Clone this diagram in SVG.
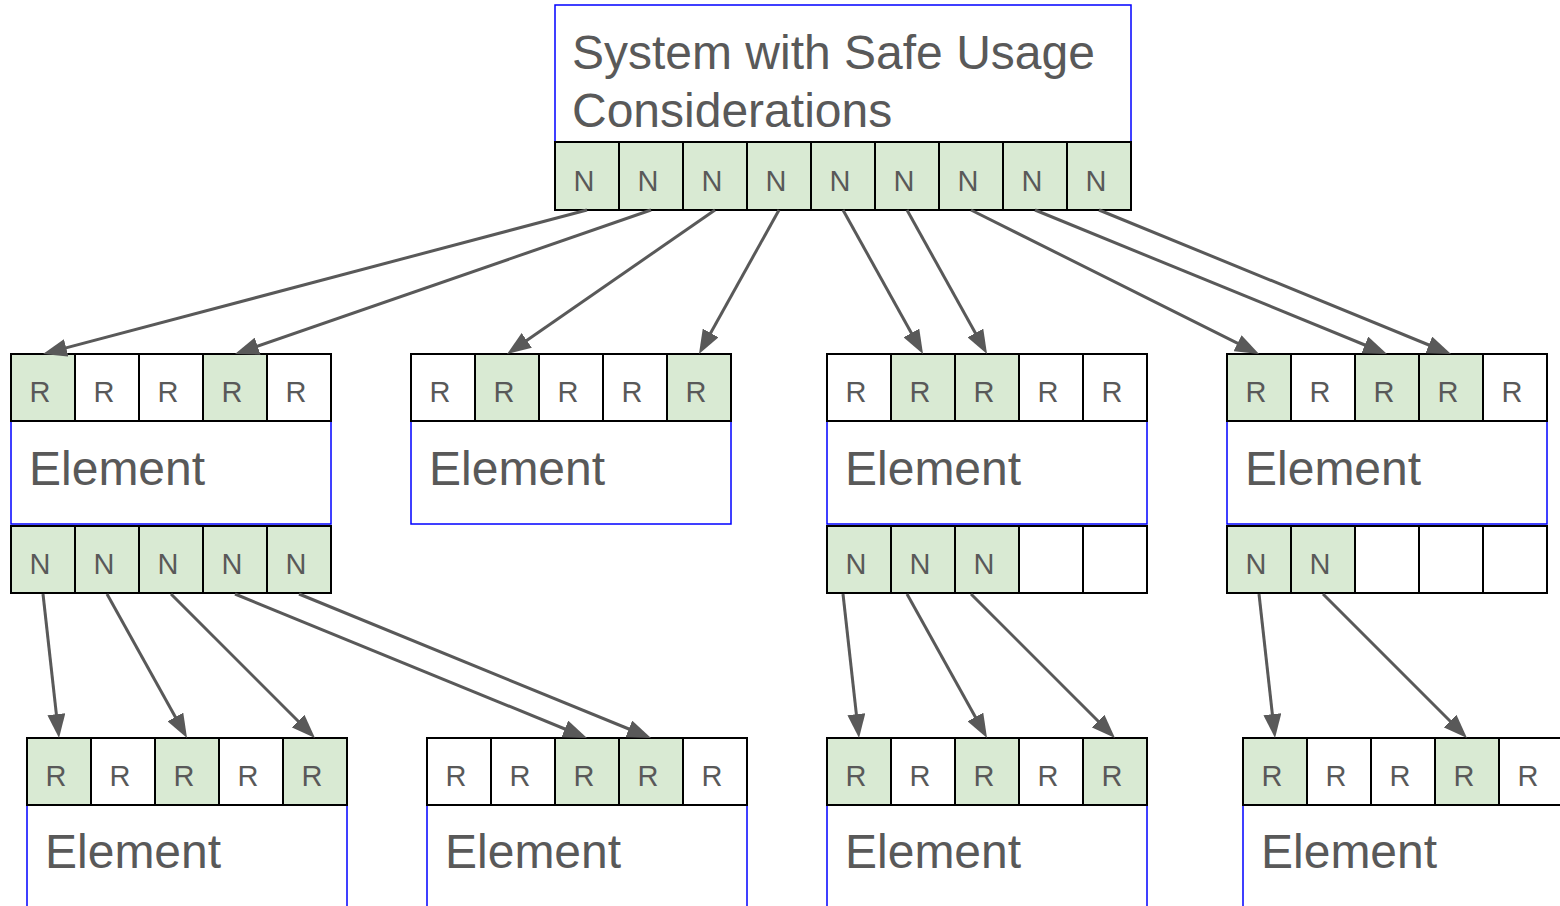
<svg xmlns="http://www.w3.org/2000/svg" width="1560" height="906" viewBox="0 0 1560 906">
  <style>
    .box { fill: #ffffff; stroke: #0000ff; stroke-width: 1.5; }
    .cell { fill: #ffffff; stroke: #000000; stroke-width: 2; }
    .on { fill: #d9ead3; }
    .lbl { font-family: "Liberation Sans", Arial, sans-serif; font-size: 29px; fill: #595959; text-anchor: middle; }
    .big { font-family: "Liberation Sans", Arial, sans-serif; font-size: 48px; fill: #595959; }
    .conn line { stroke: #595959; stroke-width: 3; marker-end: url(#head); }
  </style>
  <defs>
    <marker id="head" viewBox="0 0 24 18" refX="12" refY="9" markerWidth="24" markerHeight="18" markerUnits="userSpaceOnUse" orient="auto">
      <path d="M0,0 L24,9 L0,18 z" fill="#595959"/>
    </marker>
  </defs>
  <rect width="1560" height="906" fill="#ffffff"/>

  <!-- top-level system -->
  <g id="system">
    <rect class="box" x="555" y="5" width="576" height="137"/>
    <text class="big" x="572" y="69">System with Safe Usage</text>
    <text class="big" x="572" y="127">Considerations</text>
    <g>
      <rect class="cell on" x="555" y="142" width="64" height="68"/>
      <rect class="cell on" x="619" y="142" width="64" height="68"/>
      <rect class="cell on" x="683" y="142" width="64" height="68"/>
      <rect class="cell on" x="747" y="142" width="64" height="68"/>
      <rect class="cell on" x="811" y="142" width="64" height="68"/>
      <rect class="cell on" x="875" y="142" width="64" height="68"/>
      <rect class="cell on" x="939" y="142" width="64" height="68"/>
      <rect class="cell on" x="1003" y="142" width="64" height="68"/>
      <rect class="cell on" x="1067" y="142" width="64" height="68"/>
      <text class="lbl" x="584" y="191">N</text>
      <text class="lbl" x="648" y="191">N</text>
      <text class="lbl" x="712" y="191">N</text>
      <text class="lbl" x="776" y="191">N</text>
      <text class="lbl" x="840" y="191">N</text>
      <text class="lbl" x="904" y="191">N</text>
      <text class="lbl" x="968" y="191">N</text>
      <text class="lbl" x="1032" y="191">N</text>
      <text class="lbl" x="1096" y="191">N</text>
    </g>
  </g>

  <!-- second level -->
  <g id="element-1">
    <rect class="box" x="11" y="421" width="320" height="103"/>
    <text class="big" x="29" y="485">Element</text>
    <rect class="cell on" x="11" y="354" width="64" height="67"/>
    <rect class="cell" x="75" y="354" width="64" height="67"/>
    <rect class="cell" x="139" y="354" width="64" height="67"/>
    <rect class="cell on" x="203" y="354" width="64" height="67"/>
    <rect class="cell" x="267" y="354" width="64" height="67"/>
    <text class="lbl" x="40" y="402">R</text>
    <text class="lbl" x="104" y="402">R</text>
    <text class="lbl" x="168" y="402">R</text>
    <text class="lbl" x="232" y="402">R</text>
    <text class="lbl" x="296" y="402">R</text>
    <rect class="cell on" x="11" y="526" width="64" height="67"/>
    <rect class="cell on" x="75" y="526" width="64" height="67"/>
    <rect class="cell on" x="139" y="526" width="64" height="67"/>
    <rect class="cell on" x="203" y="526" width="64" height="67"/>
    <rect class="cell on" x="267" y="526" width="64" height="67"/>
    <text class="lbl" x="40" y="574">N</text>
    <text class="lbl" x="104" y="574">N</text>
    <text class="lbl" x="168" y="574">N</text>
    <text class="lbl" x="232" y="574">N</text>
    <text class="lbl" x="296" y="574">N</text>
  </g>

  <g id="element-2">
    <rect class="box" x="411" y="421" width="320" height="103"/>
    <text class="big" x="429" y="485">Element</text>
    <rect class="cell" x="411" y="354" width="64" height="67"/>
    <rect class="cell on" x="475" y="354" width="64" height="67"/>
    <rect class="cell" x="539" y="354" width="64" height="67"/>
    <rect class="cell" x="603" y="354" width="64" height="67"/>
    <rect class="cell on" x="667" y="354" width="64" height="67"/>
    <text class="lbl" x="440" y="402">R</text>
    <text class="lbl" x="504" y="402">R</text>
    <text class="lbl" x="568" y="402">R</text>
    <text class="lbl" x="632" y="402">R</text>
    <text class="lbl" x="696" y="402">R</text>
  </g>

  <g id="element-3">
    <rect class="box" x="827" y="421" width="320" height="103"/>
    <text class="big" x="845" y="485">Element</text>
    <rect class="cell" x="827" y="354" width="64" height="67"/>
    <rect class="cell on" x="891" y="354" width="64" height="67"/>
    <rect class="cell on" x="955" y="354" width="64" height="67"/>
    <rect class="cell" x="1019" y="354" width="64" height="67"/>
    <rect class="cell" x="1083" y="354" width="64" height="67"/>
    <text class="lbl" x="856" y="402">R</text>
    <text class="lbl" x="920" y="402">R</text>
    <text class="lbl" x="984" y="402">R</text>
    <text class="lbl" x="1048" y="402">R</text>
    <text class="lbl" x="1112" y="402">R</text>
    <rect class="cell on" x="827" y="526" width="64" height="67"/>
    <rect class="cell on" x="891" y="526" width="64" height="67"/>
    <rect class="cell on" x="955" y="526" width="64" height="67"/>
    <rect class="cell" x="1019" y="526" width="64" height="67"/>
    <rect class="cell" x="1083" y="526" width="64" height="67"/>
    <text class="lbl" x="856" y="574">N</text>
    <text class="lbl" x="920" y="574">N</text>
    <text class="lbl" x="984" y="574">N</text>
  </g>

  <g id="element-4">
    <rect class="box" x="1227" y="421" width="320" height="103"/>
    <text class="big" x="1245" y="485">Element</text>
    <rect class="cell on" x="1227" y="354" width="64" height="67"/>
    <rect class="cell" x="1291" y="354" width="64" height="67"/>
    <rect class="cell on" x="1355" y="354" width="64" height="67"/>
    <rect class="cell on" x="1419" y="354" width="64" height="67"/>
    <rect class="cell" x="1483" y="354" width="64" height="67"/>
    <text class="lbl" x="1256" y="402">R</text>
    <text class="lbl" x="1320" y="402">R</text>
    <text class="lbl" x="1384" y="402">R</text>
    <text class="lbl" x="1448" y="402">R</text>
    <text class="lbl" x="1512" y="402">R</text>
    <rect class="cell on" x="1227" y="526" width="64" height="67"/>
    <rect class="cell on" x="1291" y="526" width="64" height="67"/>
    <rect class="cell" x="1355" y="526" width="64" height="67"/>
    <rect class="cell" x="1419" y="526" width="64" height="67"/>
    <rect class="cell" x="1483" y="526" width="64" height="67"/>
    <text class="lbl" x="1256" y="574">N</text>
    <text class="lbl" x="1320" y="574">N</text>
  </g>

  <!-- third level -->
  <g id="element-5">
    <rect class="box" x="27" y="805" width="320" height="130"/>
    <text class="big" x="45" y="868">Element</text>
    <rect class="cell on" x="27" y="738" width="64" height="67"/>
    <rect class="cell" x="91" y="738" width="64" height="67"/>
    <rect class="cell on" x="155" y="738" width="64" height="67"/>
    <rect class="cell" x="219" y="738" width="64" height="67"/>
    <rect class="cell on" x="283" y="738" width="64" height="67"/>
    <text class="lbl" x="56" y="786">R</text>
    <text class="lbl" x="120" y="786">R</text>
    <text class="lbl" x="184" y="786">R</text>
    <text class="lbl" x="248" y="786">R</text>
    <text class="lbl" x="312" y="786">R</text>
  </g>

  <g id="element-6">
    <rect class="box" x="427" y="805" width="320" height="130"/>
    <text class="big" x="445" y="868">Element</text>
    <rect class="cell" x="427" y="738" width="64" height="67"/>
    <rect class="cell" x="491" y="738" width="64" height="67"/>
    <rect class="cell on" x="555" y="738" width="64" height="67"/>
    <rect class="cell on" x="619" y="738" width="64" height="67"/>
    <rect class="cell" x="683" y="738" width="64" height="67"/>
    <text class="lbl" x="456" y="786">R</text>
    <text class="lbl" x="520" y="786">R</text>
    <text class="lbl" x="584" y="786">R</text>
    <text class="lbl" x="648" y="786">R</text>
    <text class="lbl" x="712" y="786">R</text>
  </g>

  <g id="element-7">
    <rect class="box" x="827" y="805" width="320" height="130"/>
    <text class="big" x="845" y="868">Element</text>
    <rect class="cell on" x="827" y="738" width="64" height="67"/>
    <rect class="cell" x="891" y="738" width="64" height="67"/>
    <rect class="cell on" x="955" y="738" width="64" height="67"/>
    <rect class="cell" x="1019" y="738" width="64" height="67"/>
    <rect class="cell on" x="1083" y="738" width="64" height="67"/>
    <text class="lbl" x="856" y="786">R</text>
    <text class="lbl" x="920" y="786">R</text>
    <text class="lbl" x="984" y="786">R</text>
    <text class="lbl" x="1048" y="786">R</text>
    <text class="lbl" x="1112" y="786">R</text>
  </g>

  <g id="element-8">
    <rect class="box" x="1243" y="805" width="320" height="130"/>
    <text class="big" x="1261" y="868">Element</text>
    <rect class="cell on" x="1243" y="738" width="64" height="67"/>
    <rect class="cell" x="1307" y="738" width="64" height="67"/>
    <rect class="cell" x="1371" y="738" width="64" height="67"/>
    <rect class="cell on" x="1435" y="738" width="64" height="67"/>
    <rect class="cell" x="1499" y="738" width="64" height="67"/>
    <text class="lbl" x="1272" y="786">R</text>
    <text class="lbl" x="1336" y="786">R</text>
    <text class="lbl" x="1400" y="786">R</text>
    <text class="lbl" x="1464" y="786">R</text>
    <text class="lbl" x="1528" y="786">R</text>
  </g>

  <!-- connectors: line ends are pulled back so the arrowhead tip lands on the cell edge -->
  <g id="connectors" class="conn">
    <line x1="587" y1="210" x2="54.6" y2="350.9"/>
    <line x1="651" y1="210" x2="246.3" y2="350.1"/>
    <line x1="715" y1="210" x2="516.9" y2="347.2"/>
    <line x1="779" y1="210" x2="704.8" y2="343.5"/>
    <line x1="843" y1="210" x2="917.2" y2="343.5"/>
    <line x1="907" y1="210" x2="981.2" y2="343.5"/>
    <line x1="971" y1="210" x2="1248.3" y2="348.6"/>
    <line x1="1035" y1="210" x2="1375.9" y2="349.5"/>
    <line x1="1099" y1="210" x2="1439.9" y2="349.5"/>

    <line x1="43" y1="594" x2="57.7" y2="726.1"/>
    <line x1="107" y1="594" x2="181.2" y2="727.5"/>
    <line x1="171" y1="594" x2="306.5" y2="729.5"/>
    <line x1="235" y1="594" x2="575.9" y2="733.5"/>
    <line x1="299" y1="594" x2="639.9" y2="733.5"/>

    <line x1="843" y1="594" x2="857.7" y2="726.1"/>
    <line x1="907" y1="594" x2="981.2" y2="727.5"/>
    <line x1="971" y1="594" x2="1106.5" y2="729.5"/>

    <line x1="1259" y1="594" x2="1273.7" y2="726.1"/>
    <line x1="1323" y1="594" x2="1458.5" y2="729.5"/>
  </g>
</svg>
